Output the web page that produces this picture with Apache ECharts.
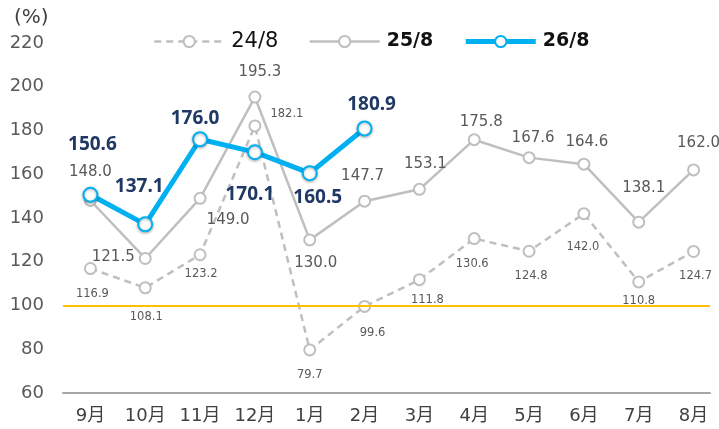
<!DOCTYPE html>
<html><head><meta charset="utf-8">
<script src="https://cdn.jsdelivr.net/npm/echarts@6/dist/echarts.min.js"></script>
<style>html,body{margin:0;padding:0;background:#fff}#c{width:719px;height:429px}</style>
</head><body><div id="c"></div>
<script>
const months = ['9月','10月','11月','12月','1月','2月','3月','4月','5月','6月','7月','8月'];
const s24 = [116.9,108.1,123.2,182.1,79.7,99.6,111.8,130.6,124.8,142.0,110.8,124.7];
const s25 = [148.0,121.5,149.0,195.3,130.0,147.7,153.1,175.8,167.6,164.6,138.1,162.0];
const s26 = [150.6,137.1,176.0,170.1,160.5,180.9];
const names = ['24/8','25/8','26/8'];
const yMin = 60, yMax = 220, yStep = 20;
const baseline = 100;

// label offsets (layout only)
const off24 = [[2,25],[1,29],[1,19],[32,-12],[0,25],[8,27],[8,20],[-2,25],[2,25],[-1,33],[0,19],[2,25]];
const off25 = [[0,-28],[-32,-1],[28,22],[5,-25],[6,23],[-2,-25],[6,-25],[7,-18],[4,-20],[3,-22],[5,-34],[5,-27]];
const off26 = [[2,-50],[-6,-38],[-5,-21],[-5,42],[8,24],[7,-24]];

const FONT = '"DejaVu Sans", "Noto Sans CJK JP", sans-serif';
const build = (vals, off) => vals.map((v, i) => ({ value: [i, v], label: { offset: off[i] } }));
const fmt = p => p.value[1].toFixed(1);

const chart = echarts.init(document.getElementById('c'), null, { renderer: 'canvas' });
chart.setOption({
  animation: false,
  backgroundColor: '#fff',
  title: { text: '(%)', left: 9, top: 3, textStyle: { fontFamily: FONT, fontSize: 20, fontWeight: 'normal', color: '#404040' } },
  legend: {
    left: 148, top: 26, itemWidth: 70, itemHeight: 14, itemGap: 30,
    textStyle: { fontFamily: FONT, fontSize: 21, color: '#111', padding: [0, 0, 0, 2] },
    data: [
      { name: names[0], textStyle: { fontWeight: 'normal' }, lineStyle: { width: 2.5 } },
      { name: names[1], textStyle: { fontWeight: 'bold', fontSize: 19 }, lineStyle: { width: 2.5 } },
      { name: names[2], textStyle: { fontWeight: 'bold', fontSize: 19 }, lineStyle: { width: 5 } }
    ]
  },
  grid: { left: 63, right: 9, top: 43, bottom: 36 },
  xAxis: {
    type: 'value', min: -0.5, max: 11.3,
    axisLine: { show: true, onZero: false, lineStyle: { color: '#A6A6A6', width: 2 } },
    axisTick: { show: false }, splitLine: { show: false },
    axisLabel: {
      customValues: months.map((m, i) => i),
      formatter: v => months[Math.round(v)],
      fontFamily: FONT, fontSize: 18, color: '#404040', margin: 14
    }
  },
  yAxis: {
    type: 'value', min: yMin, max: yMax, interval: yStep,
    axisLine: { show: false }, axisTick: { show: false }, splitLine: { show: false },
    axisLabel: { fontFamily: FONT, fontSize: 18, color: '#595959', margin: 19 }
  },
  series: [
    {
      name: names[0], type: 'line', data: build(s24, off24), z: 2,
      symbol: 'emptyCircle', symbolSize: 11,
      lineStyle: { color: '#BFBFBF', width: 2.5, type: [7, 5] },
      itemStyle: { color: '#BFBFBF', borderWidth: 2 },
      label: { show: true, position: 'inside', formatter: fmt, fontFamily: FONT, fontSize: 11.5, color: '#595959' },
      markLine: {
        silent: true, symbol: 'none', label: { show: false },
        lineStyle: { color: '#FFC000', width: 2, type: 'solid' },
        data: [{ yAxis: baseline }]
      }
    },
    {
      name: names[1], type: 'line', data: build(s25, off25), z: 3,
      symbol: 'emptyCircle', symbolSize: 11,
      lineStyle: { color: '#BFBFBF', width: 2.5 },
      itemStyle: { color: '#BFBFBF', borderWidth: 2 },
      label: { show: true, position: 'inside', formatter: fmt, fontFamily: FONT, fontSize: 15, color: '#595959' }
    },
    {
      name: names[2], type: 'line', data: build(s26, off26), z: 4,
      symbol: 'emptyCircle', symbolSize: 14,
      lineStyle: { color: '#00B0F0', width: 5 },
      itemStyle: { color: '#00B0F0', borderWidth: 2.5, shadowBlur: 3, shadowColor: 'rgba(0,0,0,0.3)', shadowOffsetY: 1 },
      label: { show: true, position: 'inside', formatter: fmt, fontFamily: '"Noto Sans", sans-serif', fontSize: 19, fontWeight: 'bold', color: '#1F3864' }
    }
  ]
});
</script>
</body></html>
